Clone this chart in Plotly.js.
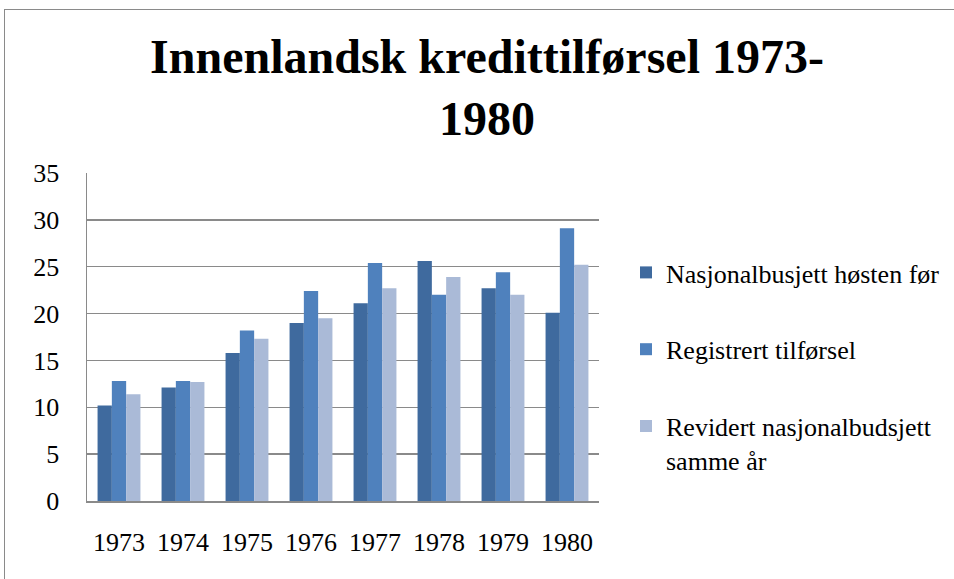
<!DOCTYPE html>
<html>
<head>
<meta charset="utf-8">
<script src="https://cdn.plot.ly/plotly-3.0.1.min.js"></script>
<style>
  html, body { margin: 0; padding: 0; background: #ffffff; }
  #wrap { position: relative; width: 954px; height: 579px; overflow: hidden; }
  #chart { position: absolute; left: 0; top: 0; width: 954px; height: 579px; }
  #frame { position: absolute; left: 4px; top: 9px; width: 1000px; height: 700px;
           border-left: 1px solid #8a8a8a; border-top: 1px solid #8a8a8a; pointer-events: none; }
</style>
</head>
<body>
<div id="wrap">
  <div id="chart"></div>
  <div id="frame"></div>
</div>
<script>
const categories = ["1973", "1974", "1975", "1976", "1977", "1978", "1979", "1980"];
const seriesNames = ["Nasjonalbusjett høsten før", "Registrert tilførsel", "Revidert nasjonalbudsjett<br>samme år"];
const nasjonalbudsjettHostenFor = [10.2, 12.1, 15.8, 19.0, 21.1, 25.6, 22.7, 20.1];
const registrertTilforsel = [12.8, 12.8, 18.2, 22.4, 25.4, 22.0, 24.4, 29.1];
const revidertNasjonalbudsjett = [11.4, 12.7, 17.3, 19.5, 22.7, 23.9, 22.0, 25.2];
const yTicks = [0, 5, 10, 15, 20, 25, 30, 35];

const colors = ["#3F6A9E", "#4F81BD", "#AABAD7"];
const seriesValues = [nasjonalbudsjettHostenFor, registrertTilforsel, revidertNasjonalbudsjett];

const font = "Liberation Serif, Times New Roman, serif";

const traces = seriesValues.map((vals, i) => ({
  type: "bar",
  name: seriesNames[i],
  x: categories,
  y: vals,
  legendgroup: "g" + i,
  marker: { color: colors[i], line: { width: 0 } },
  hoverinfo: "x+y+name"
}));

const layout = {
  width: 954,
  height: 579,
  margin: { l: 87, r: 355, t: 173, b: 78 },
  paper_bgcolor: "rgba(0,0,0,0)",
  plot_bgcolor: "rgba(0,0,0,0)",
  font: { family: font, size: 26, color: "#000000" },
  title: {
    text: "<b>Innenlandsk kredittilførsel 1973-<br>1980</b>",
    font: { family: font, size: 48, color: "#000000" },
    xref: "container", x: 0.5105, xanchor: "center",
    yref: "container", y: 1 - 73 / 579, yanchor: "middle"
  },
  barmode: "group",
  bargap: 0.33,
  bargroupgap: 0,
  xaxis: {
    type: "category",
    showgrid: false,
    showline: true,
    linecolor: "#8a8a8a",
    linewidth: 1.5,
    ticks: "",
    ticklabelstandoff: 17,
    tickfont: { family: font, size: 26, color: "#000000" },
    zeroline: false
  },
  yaxis: {
    range: [0, 35],
    tickvals: yTicks,
    ticktext: yTicks.map(String),
    showgrid: true,
    gridcolor: "#8a8a8a",
    gridwidth: 1.5,
    showline: true,
    linecolor: "#8a8a8a",
    linewidth: 1.5,
    ticks: "",
    ticklabelstandoff: 21,
    tickfont: { family: font, size: 26, color: "#000000" },
    zeroline: false,
    fixedrange: true
  },
  showlegend: true,
  legend: {
    orientation: "v",
    xref: "container",
    yref: "container",
    x: 626 / 954,
    xanchor: "left",
    y: 1 - 249 / 579,
    yanchor: "top",
    valign: "top",
    traceorder: "grouped",
    tracegroupgap: 40,
    font: { family: font, size: 26, color: "#000000" },
    bgcolor: "rgba(0,0,0,0)",
    borderwidth: 0
  }
};

Plotly.newPlot("chart", traces, layout, { displayModeBar: false, staticPlot: true });
</script>
</body>
</html>
